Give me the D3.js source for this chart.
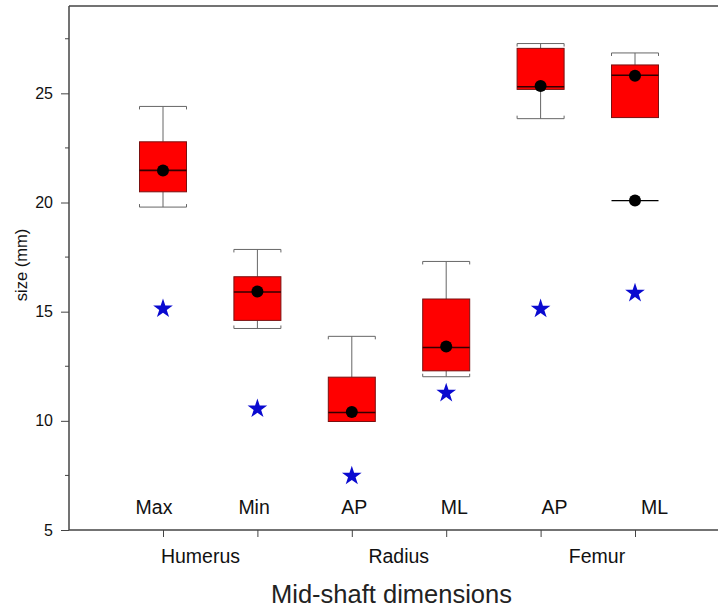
<!DOCTYPE html>
<html><head><meta charset="utf-8">
<script src="https://cdn.jsdelivr.net/npm/d3@7"></script>
<style>body{margin:0;background:#fff}svg{display:block;font-family:"Liberation Sans",Arial,sans-serif}</style>
</head><body><svg id="c" width="718" height="610"></svg>
<script>
const dims = ["Max","Min","AP","ML","AP","ML"];
const bones = ["Humerus","Radius","Femur"];
const whiskerHigh = [24.4, 17.85, 13.87, 17.3, 27.28, 26.85];
const q3          = [22.78, 16.6, 12.0, 15.58, 27.06, 26.3];
const median      = [21.47, 15.9, 10.38, 13.36, 25.3, 25.83];
const q1          = [20.49, 14.6, 9.97, 12.29, 25.18, 23.89];
const whiskerLow  = [19.79, 14.23, 9.97, 12.02, 23.84, 23.89];
const meanVal     = [21.47, 15.92, 10.4, 13.4, 25.34, 25.8];
const starVal     = [15.18, 10.6, 7.52, 11.32, 15.17, 15.9];
const extraIdx = [5];
const extraVal = [20.09];
const yTicks = [5,10,15,20,25];
const yMinor = [7.5,12.5,17.5,22.5,27.5];

const svg = d3.select("#c");
const L=69, T=6, B=530, R=718;
const y = d3.scaleLinear().domain([5,29]).range([B,T]);
const xBox = d3.scaleLinear().domain([0,5]).range([163,635]);
const xLab = d3.scaleLinear().domain([0,5]).range([154,654.5]);
const xBone = d3.scaleLinear().domain([0,2]).range([200.5,597]);
const bw = 47;
const axisCol = "#444";

// frame top line
svg.append("line").attr("x1",L).attr("x2",R).attr("y1",T).attr("y2",T).attr("stroke",axisCol).attr("stroke-width",1.5);

// y axis
const ya = svg.append("g").attr("transform",`translate(${L},0)`)
  .call(d3.axisLeft(y).tickValues(yTicks).tickSize(8).tickPadding(8).tickFormat(d3.format("d")));
ya.select(".domain").attr("d",`M0,${B}V${T}`).attr("stroke",axisCol).attr("stroke-width",1.5);
ya.selectAll(".tick line").attr("stroke",axisCol);
ya.selectAll(".tick text").attr("font-size",16).attr("fill","#111").attr("font-family","Liberation Sans, Arial");
ya.selectAll("line.minor").data(yMinor).enter().append("line").attr("class","minor")
  .attr("x1",-4).attr("x2",0).attr("y1",d=>y(d)).attr("y2",d=>y(d)).attr("stroke",axisCol);

// x axis
const xa = svg.append("g").attr("transform",`translate(0,${B})`)
  .call(d3.axisBottom(xBox).tickValues(d3.range(dims.length)).tickSize(7).tickFormat(""));
xa.select(".domain").attr("d",`M${L},0H${R}`).attr("stroke",axisCol).attr("stroke-width",1.5);
xa.selectAll(".tick line").attr("stroke",axisCol);

// boxes and whiskers
const wcol = "#666", cap = 3;
const g = svg.append("g");
dims.forEach((d,i)=>{
  const cx = xBox(i), x0 = cx-bw/2, x1 = cx+bw/2;
  if (whiskerHigh[i] > q3[i]) {
    g.append("line").attr("x1",cx).attr("x2",cx).attr("y1",y(whiskerHigh[i])).attr("y2",y(q3[i])).attr("stroke",wcol);
    g.append("path").attr("d",`M${x0},${y(whiskerHigh[i])+cap}V${y(whiskerHigh[i])}H${x1}V${y(whiskerHigh[i])+cap}`).attr("fill","none").attr("stroke",wcol);
  }
  if (whiskerLow[i] < q1[i]) {
    g.append("line").attr("x1",cx).attr("x2",cx).attr("y1",y(whiskerLow[i])).attr("y2",y(q1[i])).attr("stroke",wcol);
    g.append("path").attr("d",`M${x0},${y(whiskerLow[i])-cap}V${y(whiskerLow[i])}H${x1}V${y(whiskerLow[i])-cap}`).attr("fill","none").attr("stroke",wcol);
  }
  g.append("rect").attr("x",x0).attr("width",bw).attr("y",y(q3[i])).attr("height",y(q1[i])-y(q3[i]))
    .attr("fill","#ff0000").attr("stroke","#7a1010").attr("stroke-width",1);
  g.append("line").attr("x1",x0).attr("x2",x1).attr("y1",y(median[i])).attr("y2",y(median[i])).attr("stroke","#300").attr("stroke-width",1.6);
  g.append("circle").attr("cx",cx).attr("cy",y(meanVal[i])).attr("r",6).attr("fill","#000");
});
extraIdx.forEach((k,j)=>{
  const cx = xBox(k);
  g.append("line").attr("x1",cx-bw/2).attr("x2",cx+bw/2).attr("y1",y(extraVal[j])).attr("y2",y(extraVal[j])).attr("stroke","#000").attr("stroke-width",1.2);
  g.append("circle").attr("cx",cx).attr("cy",y(extraVal[j])).attr("r",6).attr("fill","#000");
});

// stars
g.selectAll("path.star").data(starVal).enter().append("path").attr("class","star")
  .attr("d",d3.symbol(d3.symbolStar,120))
  .attr("transform",(d,i)=>`translate(${xBox(i)},${y(d)+1})`)
  .attr("fill","#0a0ad0");

// labels
svg.selectAll("text.dim").data(dims).enter().append("text").attr("class","dim")
  .attr("x",(d,i)=>xLab(i)).attr("y",514).attr("text-anchor","middle")
  .attr("font-size",19.5).attr("fill","#111").text(d=>d);
svg.selectAll("text.bone").data(bones).enter().append("text").attr("class","bone")
  .attr("x",(d,i)=>xBone(i)).attr("y",563).attr("text-anchor","middle")
  .attr("font-size",19.5).attr("fill","#111").text(d=>d);
svg.append("text").attr("x",391.5).attr("y",603).attr("text-anchor","middle")
  .attr("font-size",25.5).attr("fill","#222").text("Mid-shaft dimensions");
svg.append("text").attr("transform","translate(27,265) rotate(-90)").attr("text-anchor","middle")
  .attr("font-size",16.5).attr("fill","#111").text("size (mm)");
</script></body></html>
